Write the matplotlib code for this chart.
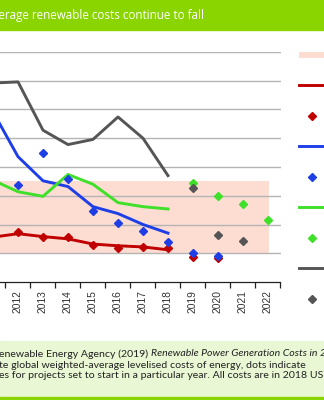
import matplotlib
matplotlib.use("Agg")
import matplotlib.pyplot as plt
from matplotlib.patches import Rectangle, Patch
from matplotlib.lines import Line2D
from matplotlib.ticker import FixedLocator, NullFormatter

# global weighted-average LCOE, 2018 USD/kWh
lcoe_years = [2010, 2011, 2012, 2013, 2014, 2015, 2016, 2017, 2018]
onshore = [0.085, 0.078, 0.084, 0.079, 0.075, 0.066, 0.063, 0.061, 0.056]
solar_pv = [0.371, 0.296, 0.218, 0.176, 0.166, 0.131, 0.119, 0.100, 0.085]
offshore = [0.159, 0.177, 0.157, 0.149, 0.187, 0.170, 0.138, 0.131, 0.127]
csp = [0.341, 0.346, 0.348, 0.264, 0.239, 0.248, 0.287, 0.250, 0.185]

# auction prices by commissioning year
onshore_auc_years = [2012, 2013, 2014, 2015, 2016, 2017, 2018, 2019, 2020]
onshore_auc = [0.087, 0.079, 0.079, 0.065, 0.060, 0.061, 0.059, 0.044, 0.042]
solar_auc_years = [2012, 2013, 2014, 2015, 2016, 2017, 2018, 2019, 2020]
solar_auc = [0.168, 0.225, 0.180, 0.124, 0.103, 0.089, 0.070, 0.050, 0.046]
offshore_auc_years = [2019, 2020, 2021, 2022]
offshore_auc = [0.173, 0.150, 0.135, 0.107]
csp_auc_years = [2019, 2020, 2021]
csp_auc = [0.164, 0.082, 0.072]

fossil_low, fossil_high = 0.05, 0.175
all_years = list(range(2010, 2023))

RED = "#c00000"
BLUE = "#1f3fe6"
GREEN = "#3fe02a"
GREY = "#555555"
PINK = "#fddcd2"
LIME = "#8ad400"

W, H = 324, 400
fig = plt.figure(figsize=(W / 100, H / 100), dpi=100)

def fx(px):
    return px / W

def fy(py):
    return 1 - py / H

# header band and source box
fig.patches.append(Rectangle((0, fy(30)), 1, 30 / H, transform=fig.transFigure,
                             color=LIME, zorder=0))
fig.patches.append(Rectangle((0, fy(397)), 1, (397 - 341) / H, transform=fig.transFigure,
                             color="#eaf7d4", zorder=0))
fig.patches.append(Rectangle((0, 0), 1, 3 / H, transform=fig.transFigure,
                             color=LIME, zorder=0))

fig.text(fx(204), fy(15), "Weighted-average renewable costs continue to fall",
         ha="right", va="center", color="white", family="Open Sans", fontsize=8.4)

# plot area spans 2009.5 .. 2022.5, partly off the left edge
x0 = 18 - 2.5 * 25
ax = fig.add_axes([fx(x0), fy(282), (13 * 25) / W, (282 - 52) / H])
ax.set_xlim(2009.5, 2022.5)
ax.set_ylim(0, 0.4)
ax.set_facecolor("none")

ax.yaxis.set_major_locator(FixedLocator([i * 0.05 for i in range(1, 9)]))
ax.grid(axis="y", color="#b4b4b4", linewidth=1.0, zorder=0)
ax.tick_params(axis="y", left=False, labelleft=False)
for s in ["left", "right", "top"]:
    ax.spines[s].set_visible(False)
ax.spines["bottom"].set_color("#222222")
ax.spines["bottom"].set_linewidth(0.9)

ax.xaxis.set_major_locator(FixedLocator([y + 0.5 for y in range(2009, 2023)]))
ax.xaxis.set_major_formatter(NullFormatter())
ax.xaxis.set_minor_locator(FixedLocator(all_years))
ax.set_xticklabels([str(y) for y in all_years], minor=True, rotation=90,
                   family="Liberation Sans", fontsize=7.4, color="#333333")
ax.tick_params(axis="x", which="major", length=4, width=0.9, color="#222222")
ax.tick_params(axis="x", which="minor", length=0, pad=6)

ax.fill_between([2009.5, 2022.04], fossil_low, fossil_high, color=PINK,
                linewidth=0, zorder=1)

lw = 2.1
ax.plot(lcoe_years, onshore, color=RED, lw=lw, zorder=3)
ax.plot(lcoe_years, solar_pv, color=BLUE, lw=lw, zorder=3)
ax.plot(lcoe_years, offshore, color=GREEN, lw=lw, zorder=3)
ax.plot(lcoe_years, csp, color=GREY, lw=lw, zorder=3)

ms = 4.2
ax.plot(onshore_auc_years, onshore_auc, "D", color=RED, ms=ms, zorder=4)
ax.plot(solar_auc_years, solar_auc, "D", color=BLUE, ms=ms, zorder=4)
ax.plot(offshore_auc_years, offshore_auc, "D", color=GREEN, ms=ms, zorder=4)
ax.plot(csp_auc_years, csp_auc, "D", color=GREY, ms=ms, zorder=4)

# legend on the right
handles = [
    Patch(facecolor=PINK, edgecolor="none"),
    Line2D([], [], color=RED, lw=lw),
    Line2D([], [], color=RED, marker="D", ls="none", ms=ms),
    Line2D([], [], color=BLUE, lw=lw),
    Line2D([], [], color=BLUE, marker="D", ls="none", ms=ms),
    Line2D([], [], color=GREEN, lw=lw),
    Line2D([], [], color=GREEN, marker="D", ls="none", ms=ms),
    Line2D([], [], color=GREY, lw=lw),
    Line2D([], [], color=GREY, marker="D", ls="none", ms=ms),
]
labels = ["Fossil fuel cost range", "Onshore wind", "Onshore wind auctions",
          "Solar PV", "Solar PV auctions", "Offshore wind", "Offshore wind auctions",
          "CSP", "CSP auctions"]
fig.legend(handles, labels, loc="upper left", bbox_to_anchor=(fx(299), fy(51)),
           bbox_transform=fig.transFigure, frameon=False, fontsize=6.5,
           borderpad=0, borderaxespad=0, handlelength=2.9, handletextpad=0.5,
           labelspacing=2.38)

# source note
fs = 7.55
fam = "Lato"
t1 = fig.text(fx(-1), fy(354), "enewable Energy Agency (2019) ", ha="left", va="center",
              family=fam, fontsize=fs, color="#222222")
fig.canvas.draw()
bb = t1.get_window_extent()
fig.text(bb.x1 / W, fy(354), "Renewable Power Generation Costs in 2018",
         ha="left", va="center", family=fam, style="italic", fontsize=fs, color="#222222")
fig.text(fx(-1), fy(365), "te global weighted-average levelised costs of energy, dots indicate",
         ha="left", va="center", family=fam, fontsize=fs, color="#222222")
fig.text(fx(-1), fy(376), "es for projects set to start in a particular year. All costs are in 2018 US dollars.",
         ha="left", va="center", family=fam, fontsize=fs, color="#222222")

fig.savefig("out.png", dpi=100)
